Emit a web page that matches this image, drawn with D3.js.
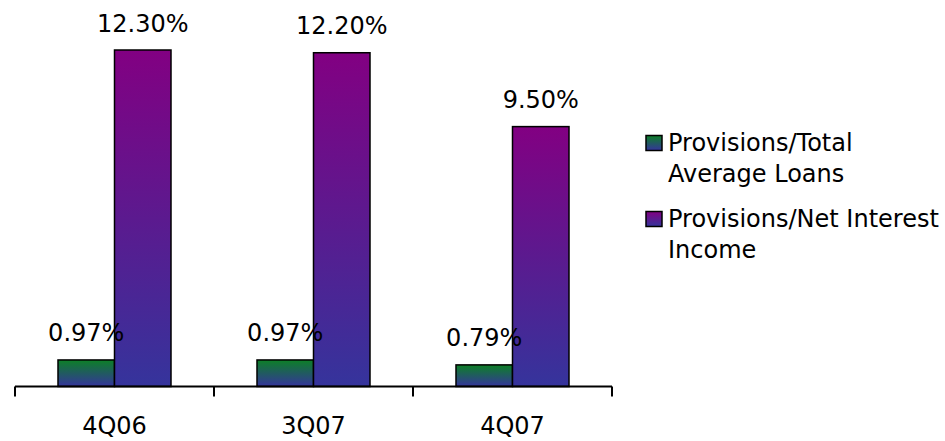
<!DOCTYPE html>
<html>
<head>
<meta charset="utf-8">
<script src="https://cdn.jsdelivr.net/npm/d3@7"></script>
<style>
  html, body { margin: 0; padding: 0; background: #fff; }
  svg { display: block; }
</style>
</head>
<body>
<svg id="chart" width="945" height="441"></svg>
<script>
// Quarterly provision ratios (percent)
const categories = ["4Q06", "3Q07", "4Q07"];
const seriesNames = ["Provisions/Total Average Loans", "Provisions/Net Interest Income"];
const loansRatio = [0.97, 0.97, 0.79];
const nimRatio = [12.30, 12.20, 9.50];
const valueLabels = [["0.97%", "0.97%", "0.79%"], ["12.30%", "12.20%", "9.50%"]];
const legendLines = [["Provisions/Total", "Average Loans"], ["Provisions/Net Interest", "Income"]];

const series = [loansRatio, nimRatio];
const gradTops = ["#0d8026", "#820082"];
const gradBottom = "#35349c";

const svg = d3.select("#chart");

const defs = svg.append("defs");
gradTops.forEach((c, i) => {
  const g = defs.append("linearGradient")
    .attr("id", "grad" + i)
    .attr("x1", 0).attr("y1", 0).attr("x2", 0).attr("y2", 1);
  g.append("stop").attr("offset", "0%").attr("stop-color", c);
  g.append("stop").attr("offset", "100%").attr("stop-color", gradBottom);
});

const x0 = d3.scaleBand().domain(categories).range([15, 612]).padding(0);
const x1 = d3.scaleBand().domain(d3.range(series.length))
  .range([0, x0.bandwidth()]).paddingInner(0).paddingOuter(0.761);
const y = d3.scaleLinear().domain([0, 14]).range([386.5, 3.5]);

const numFont = "'DejaVu Sans', sans-serif";

// Bars
series.forEach((vals, si) => {
  svg.append("g").selectAll("rect")
    .data(vals)
    .join("rect")
    .attr("x", (d, i) => x0(categories[i]) + x1(si))
    .attr("width", x1.bandwidth())
    .attr("y", d => y(d))
    .attr("height", d => y(0) - y(d))
    .attr("fill", `url(#grad${si})`)
    .attr("stroke", "#000")
    .attr("stroke-width", 1.5);
});

// Value labels
series.forEach((vals, si) => {
  svg.append("g").selectAll("text")
    .data(vals)
    .join("text")
    .attr("x", (d, i) => x0(categories[i]) + x1(si) + x1.bandwidth() / 2)
    .attr("y", d => y(d) - 18.5)
    .attr("text-anchor", "middle")
    .attr("font-family", numFont)
    .attr("font-size", 24)
    .attr("fill", "#000")
    .text((d, i) => valueLabels[si][i]);
});

// Category axis
const axis = svg.append("g")
  .attr("transform", `translate(0,${y(0)})`)
  .call(d3.axisBottom(x0).tickSize(0).tickPadding(30));
axis.select(".domain").remove();
axis.selectAll("text")
  .attr("font-family", numFont)
  .attr("font-size", 24)
  .attr("fill", "#000");

const boundaries = categories.map(c => x0(c)).concat([x0.range()[1]]);
svg.append("line")
  .attr("x1", x0.range()[0]).attr("x2", x0.range()[1])
  .attr("y1", y(0)).attr("y2", y(0))
  .attr("stroke", "#000").attr("stroke-width", 2);
svg.append("g").selectAll("line")
  .data(boundaries)
  .join("line")
  .attr("x1", d => d).attr("x2", d => d)
  .attr("y1", y(0)).attr("y2", y(0) + 10)
  .attr("stroke", "#000").attr("stroke-width", 2);

// Legend
const legend = svg.append("g").attr("transform", "translate(646,0)");
const entryBaselines = [151, 227];
legendLines.forEach((lines, si) => {
  const g = legend.append("g").attr("transform", `translate(0,${entryBaselines[si]})`);
  g.append("rect")
    .attr("x", 0).attr("y", -15.5)
    .attr("width", 16).attr("height", 15)
    .attr("fill", `url(#grad${si})`)
    .attr("stroke", "#000").attr("stroke-width", 1.5);
  const t = g.append("text")
    .attr("font-family", numFont)
    .attr("font-size", 24)
    .attr("fill", "#000");
  lines.forEach((ln, li) => {
    t.append("tspan").attr("x", 22).attr("y", li * 31).text(ln);
  });
});
</script>
</body>
</html>
